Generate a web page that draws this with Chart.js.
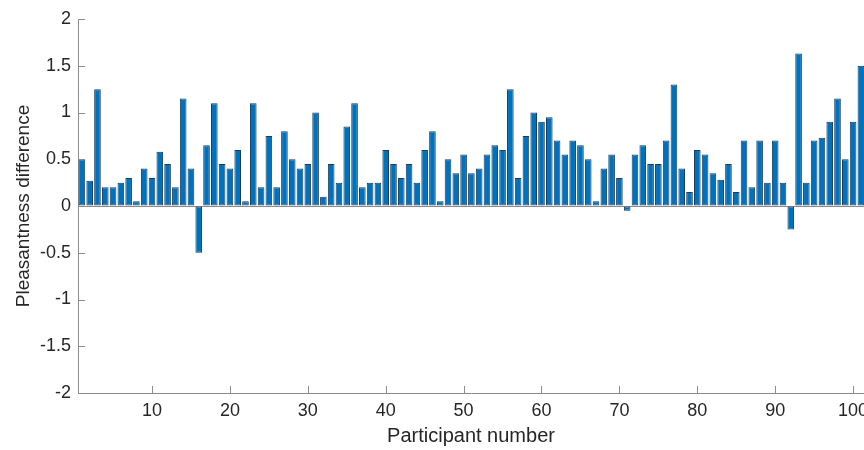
<!DOCTYPE html>
<html>
<head>
<meta charset="utf-8">
<script src="https://cdn.jsdelivr.net/npm/chart.js@4/dist/chart.umd.min.js"></script>
<style>
  html, body { margin: 0; padding: 0; background: #fff; }
  #wrap { width: 864px; height: 450px; }
</style>
</head>
<body>
<div id="wrap"><canvas id="myChart" width="864" height="450"></canvas></div>
<script>
// participant numbers (x) and pleasantness difference (y)
const participants = [
  1, 2, 3, 4, 5, 6, 7, 8, 9, 10, 11, 12, 13, 14, 15, 16, 17, 18, 19, 20,
  21, 22, 23, 24, 25, 26, 27, 28, 29, 30, 31, 32, 33, 34, 35, 36, 37, 38, 39, 40,
  41, 42, 43, 44, 45, 46, 47, 48, 49, 50, 51, 52, 53, 54, 55, 56, 57, 58, 59, 60,
  61, 62, 63, 64, 65, 66, 67, 68, 69, 70, 71, 72, 73, 74, 75, 76, 77, 78, 79, 80,
  81, 82, 83, 84, 85, 86, 87, 88, 89, 90, 91, 92, 93, 94, 95, 96, 97, 98, 99, 100, 101
];
const differences = [
  0.5, 0.27, 1.25, 0.2, 0.2, 0.25, 0.3, 0.05, 0.4, 0.3,
  0.58, 0.45, 0.2, 1.15, 0.4, -0.5, 0.65, 1.1, 0.45, 0.4,
  0.6, 0.05, 1.1, 0.2, 0.75, 0.2, 0.8, 0.5, 0.4, 0.45,
  1.0, 0.1, 0.45, 0.25, 0.85, 1.1, 0.2, 0.25, 0.25, 0.6,
  0.45, 0.3, 0.45, 0.25, 0.6, 0.8, 0.05, 0.5, 0.35, 0.55,
  0.35, 0.4, 0.55, 0.65, 0.6, 1.25, 0.3, 0.75, 1.0, 0.9,
  0.95, 0.7, 0.55, 0.7, 0.65, 0.5, 0.05, 0.4, 0.55, 0.3,
  -0.05, 0.55, 0.65, 0.45, 0.45, 0.7, 1.3, 0.4, 0.15, 0.6,
  0.55, 0.35, 0.28, 0.45, 0.15, 0.7, 0.2, 0.7, 0.25, 0.7,
  0.25, -0.25, 1.63, 0.25, 0.7, 0.73, 0.9, 1.15, 0.5, 0.9, 1.5
];
const xTicks = [10, 20, 30, 40, 50, 60, 70, 80, 90, 100];
const yTicks = [-2, -1.5, -1, -0.5, 0, 0.5, 1, 1.5, 2];

const axisColor = '#8c8c8c';
const textColor = '#262626';
const fontFamily = '"Liberation Sans", Arial, Helvetica, sans-serif';

// MATLAB style ticks pointing into the plot
const innerTicks = {
  id: 'innerTicks',
  afterDraw(chart) {
    const ctx = chart.ctx;
    const area = chart.chartArea;
    const xs = chart.scales.x, ys = chart.scales.y;
    ctx.save();
    ctx.strokeStyle = axisColor;
    ctx.lineWidth = 1;
    ctx.beginPath();
    xs.ticks.forEach(t => {
      const px = Math.round(xs.getPixelForValue(t.value)) + 0.5;
      ctx.moveTo(px, area.bottom);
      ctx.lineTo(px, area.bottom - 7);
    });
    ys.ticks.forEach(t => {
      const py = Math.round(ys.getPixelForValue(t.value)) + 0.5;
      ctx.moveTo(area.left, py);
      ctx.lineTo(area.left + 7, py);
    });
    ctx.stroke();
    ctx.restore();
  }
};

const ctx = document.getElementById('myChart').getContext('2d');
const chart = new Chart(ctx, {
  type: 'bar',
  data: {
    datasets: [{
      data: participants.map((p, i) => ({ x: p, y: differences[i] })),
      backgroundColor: '#0072BD',
      borderColor: '#1c3d5c',
      borderWidth: 1,
      borderSkipped: false,
      categoryPercentage: 1,
      barPercentage: 0.85
    }]
  },
  options: {
    responsive: false,
    animation: false,
    layout: { padding: { top: 19, right: 0, bottom: 0, left: 0 } },
    plugins: { legend: { display: false }, tooltip: { enabled: false } },
    scales: {
      x: {
        type: 'linear',
        offset: false,
        min: 0.5,
        max: 101.4,
        afterBuildTicks: s => { s.ticks = xTicks.map(v => ({ value: v })); },
        afterFit: s => { s.height = 57; s.paddingLeft = 0; s.paddingRight = 0; },
        ticks: {
          autoSkip: false,
          maxRotation: 0,
          padding: 7,
          color: textColor,
          font: { family: fontFamily, size: 18 },
          callback: v => String(v)
        },
        grid: { display: false, drawTicks: false },
        border: { display: true, color: axisColor },
        title: {
          display: true,
          text: 'Participant number',
          color: textColor,
          font: { family: fontFamily, size: 20 },
          padding: { top: 0, bottom: 2 }
        }
      },
      y: {
        min: -2,
        max: 2,
        afterBuildTicks: s => { s.ticks = yTicks.map(v => ({ value: v })); },
        afterFit: s => { s.width = 78; s.paddingTop = 0; s.paddingBottom = 0; },
        ticks: {
          padding: 7,
          color: textColor,
          font: { family: fontFamily, size: 18 },
          callback: v => String(v)
        },
        grid: {
          drawTicks: false,
          color: c => (c.tick && c.tick.value === 0 ? axisColor : 'rgba(0,0,0,0)')
        },
        border: { display: true, color: axisColor },
        title: {
          display: true,
          text: 'Pleasantness difference',
          color: textColor,
          font: { family: fontFamily, size: 19 },
          padding: { top: 12, bottom: 0 }
        }
      }
    }
  },
  plugins: [innerTicks]
});
</script>
</body>
</html>
